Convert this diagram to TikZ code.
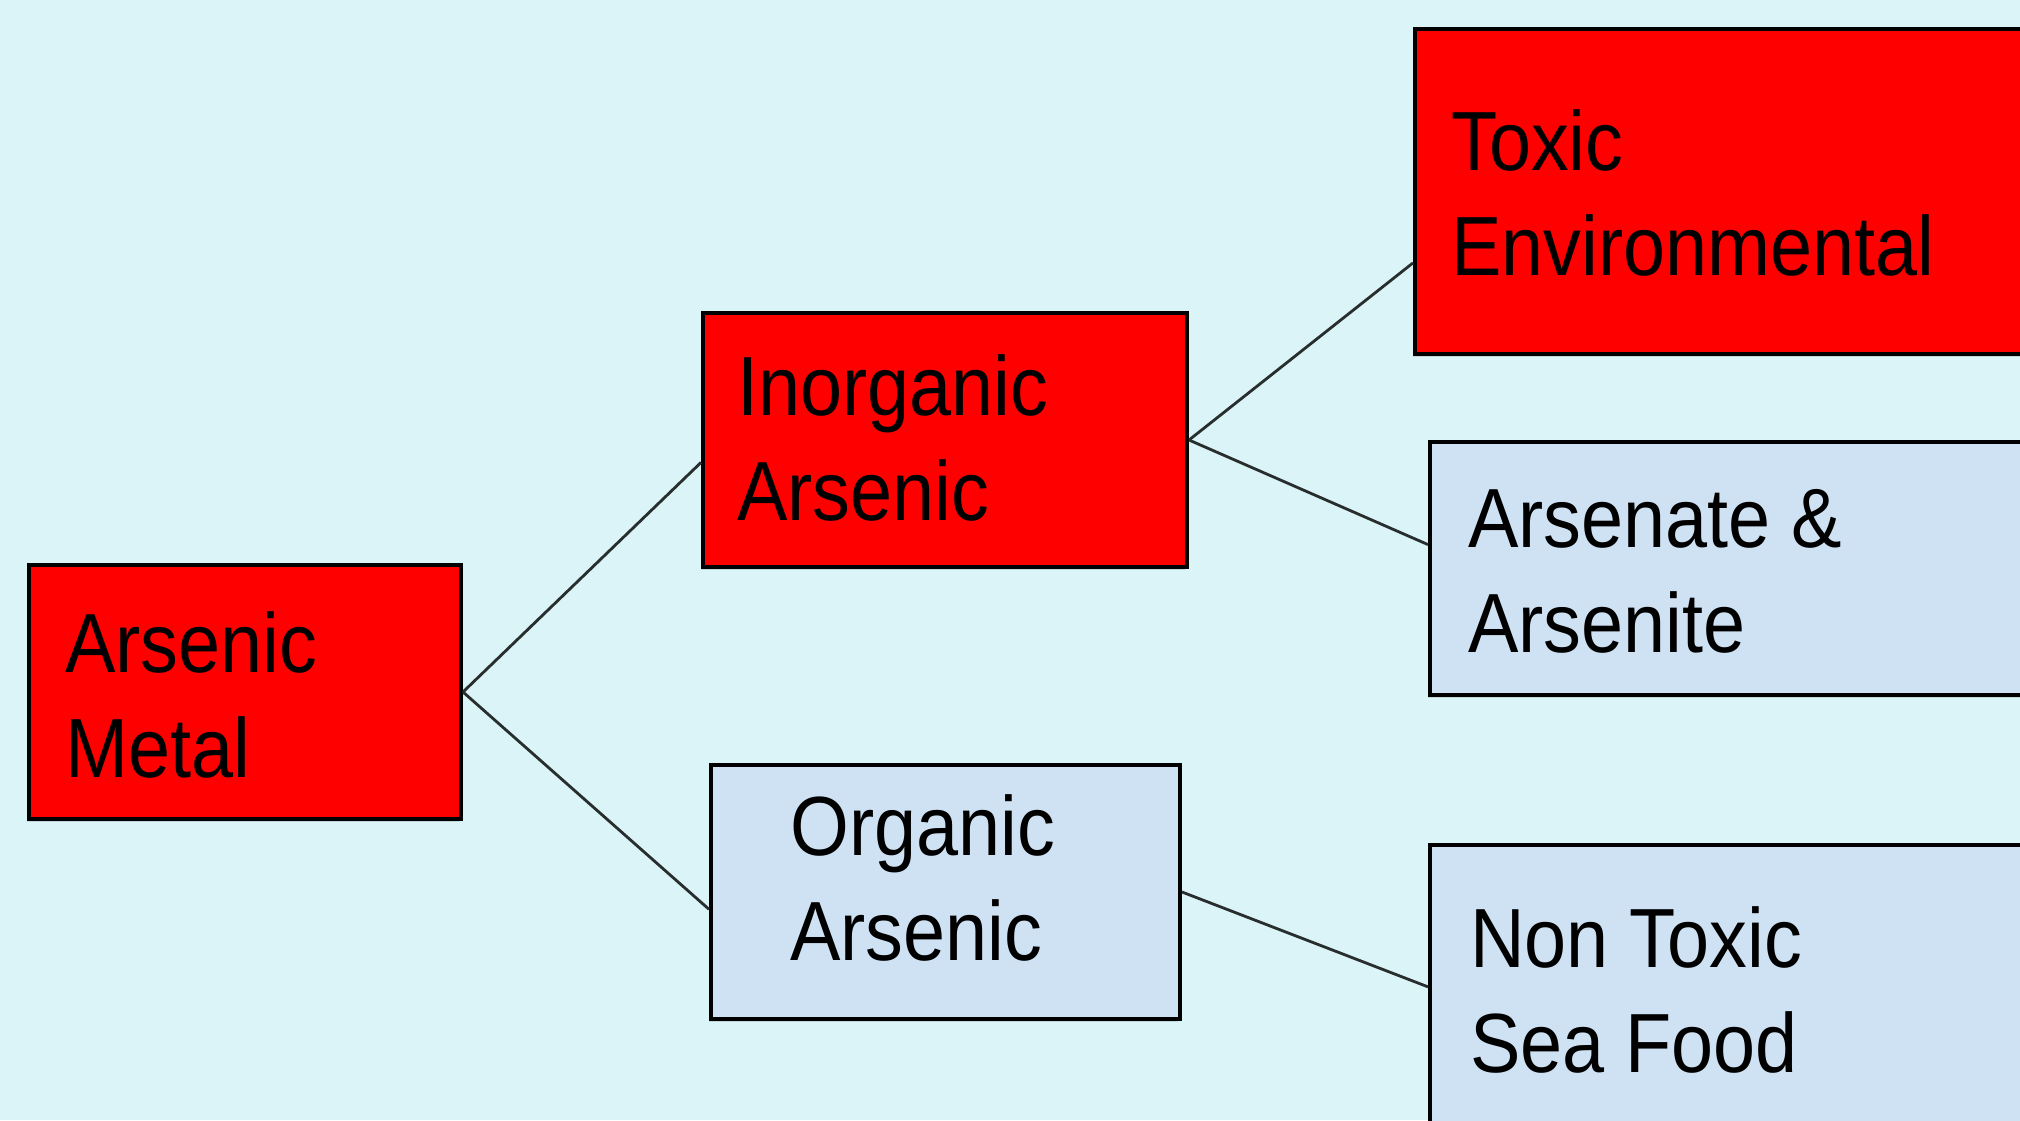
\documentclass[tikz,border=0pt]{standalone}
\usepackage{fontspec}
\setmainfont{Liberation Sans}[FakeStretch=0.9]
\usetikzlibrary{calc}
\definecolor{bgc}{RGB}{218,244,248}
\definecolor{boxred}{RGB}{255,0,0}
\definecolor{boxblue}{RGB}{207,226,243}
\definecolor{shadowc}{RGB}{190,214,220}
\definecolor{linec}{RGB}{40,45,45}
\tikzset{
  box/.style={draw=black, line width=4pt, rectangle, inner sep=0pt, anchor=north west},
  redbox/.style={box, fill=boxred},
  bluebox/.style={box, fill=boxblue},
  lbl/.style={anchor=base west, inner sep=0pt, align=left, font=\fontsize{84}{105}\selectfont, text=black},
  conn/.style={draw=linec, line width=2.8pt},
}
\begin{document}
\begin{tikzpicture}[x=1pt,y=-1pt]
\fill[bgc] (0,0) rectangle (2020,1120);
\useasboundingbox (0,0) rectangle (2020,1120);
\clip (0,0) rectangle (2020,1120);
% shadows
\foreach \a/\b/\c/\d in {27/568/459/822, 701/316/1185/570, 709/768/1178/1022, 1413/32/2040/357, 1428/445/2040/698}
  \fill[shadowc] (\a,\b) rectangle (\c,\d);
% boxes
\node[redbox, minimum width=432pt, minimum height=254pt] (metal) at (27,563) {};
\node[redbox, minimum width=484pt, minimum height=254pt] (inorg) at (701,311) {};
\node[bluebox, minimum width=469pt, minimum height=254pt] (org) at (709,763) {};
\node[redbox, minimum width=640pt, minimum height=325pt] (toxic) at (1413,27) {};
\node[bluebox, minimum width=640pt, minimum height=253pt] (arsen) at (1428,440) {};
\node[bluebox, minimum width=640pt, minimum height=320pt] (nontox) at (1428,843) {};
% texts
\node[lbl] (tmetal) at (65,777) {Arsenic\\Metal};
\node[lbl] (tinorg) at (737,520) {Inorganic\\Arsenic};
\node[lbl] (torg) at (790,960) {Organic\\Arsenic};
\node[lbl] (ttoxic) at (1451,275) {Toxic\\Environmental};
\node[lbl] (tarsen) at (1468,652) {Arsenate \&\\Arsenite};
\node[lbl] (tnontox) at (1470,1072) {Non Toxic\\Sea Food};
% connectors
\draw[conn] (metal.east) -- ($(inorg.north west)!0.587!(inorg.south west)$);
\draw[conn] (metal.east) -- ($(org.north west)!0.567!(org.south west)$);
\draw[conn] (inorg.east) -- ($(toxic.north west)!0.717!(toxic.south west)$);
\draw[conn] (inorg.east) -- ($(arsen.north west)!0.407!(arsen.south west)$);
\draw[conn] (org.east) -- ($(nontox.north west)!0.444!(nontox.south west)$);
\end{tikzpicture}
\end{document}
